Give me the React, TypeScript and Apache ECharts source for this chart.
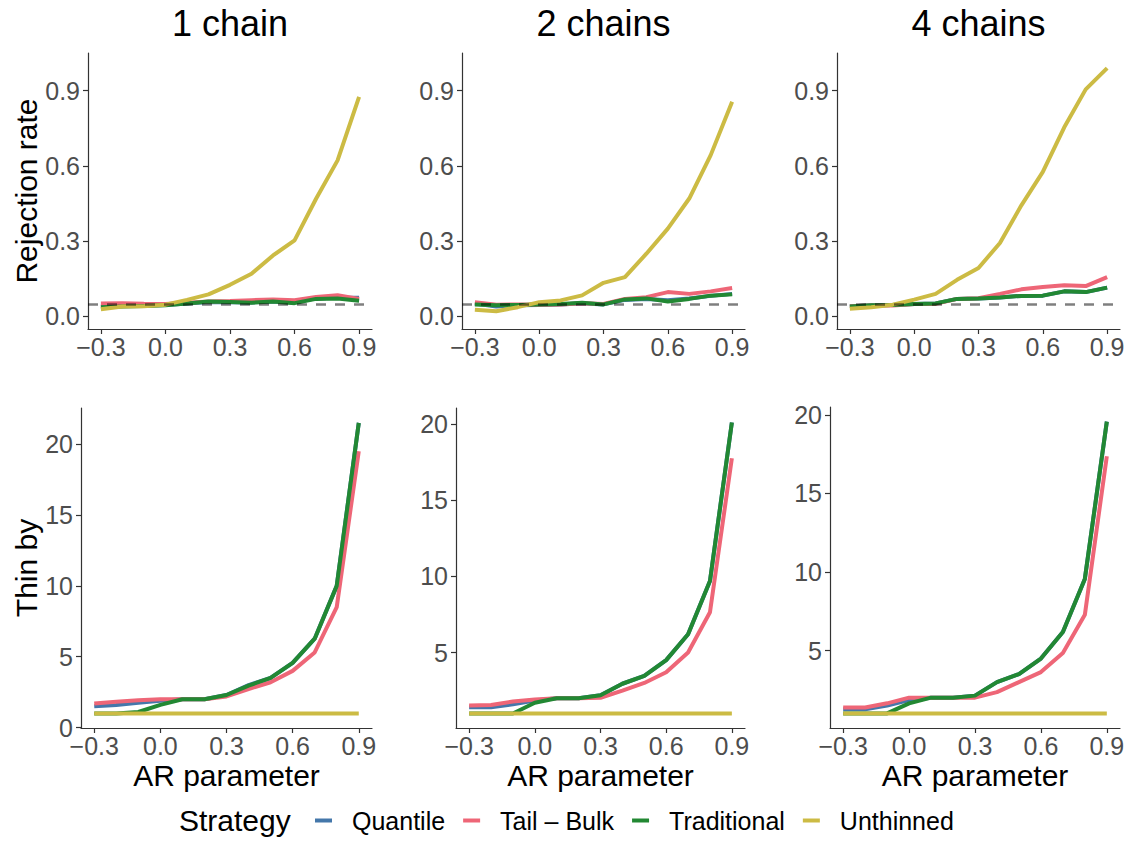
import React, { useEffect, useRef } from "react";
import * as echarts from "echarts";

// ---- data ----
const arParams = [-0.3, -0.2, -0.1, 0, 0.1, 0.2, 0.3, 0.4, 0.5, 0.6, 0.7, 0.8, 0.9];
const strategies = ["Quantile", "Tail \u2013 Bulk", "Traditional", "Unthinned"];
const strategyColors = ["#4477AA", "#EE6677", "#228833", "#CCBB44"];
const panelTitles = ["1 chain", "2 chains", "4 chains"];
const nominalLevel = 0.05;
const xTicks = [-0.3, 0, 0.3, 0.6, 0.9];
const rejTicks = [0, 0.3, 0.6, 0.9];
const thinTicks1 = [0, 5, 10, 15, 20];
const thinTicks23 = [5, 10, 15, 20];

// Rejection rate, 1 chain
const rej1Quantile = [0.040, 0.042, 0.044, 0.046, 0.052, 0.058, 0.057, 0.056, 0.060, 0.056, 0.072, 0.075, 0.075];
const rej1TailBulk = [0.052, 0.053, 0.051, 0.050, 0.055, 0.060, 0.062, 0.065, 0.068, 0.065, 0.078, 0.085, 0.070];
const rej1Traditional = [0.037, 0.040, 0.042, 0.045, 0.052, 0.060, 0.058, 0.055, 0.060, 0.053, 0.070, 0.072, 0.063];
const rej1Unthinned = [0.029, 0.040, 0.041, 0.047, 0.066, 0.088, 0.126, 0.170, 0.243, 0.303, 0.469, 0.622, 0.875];
// Rejection rate, 2 chains
const rej2Quantile = [0.052, 0.040, 0.045, 0.046, 0.048, 0.053, 0.048, 0.066, 0.070, 0.065, 0.072, 0.082, 0.090];
const rej2TailBulk = [0.057, 0.047, 0.048, 0.047, 0.048, 0.053, 0.050, 0.070, 0.077, 0.097, 0.090, 0.100, 0.113];
const rej2Traditional = [0.048, 0.045, 0.046, 0.048, 0.050, 0.055, 0.048, 0.068, 0.072, 0.060, 0.070, 0.083, 0.088];
const rej2Unthinned = [0.027, 0.021, 0.037, 0.057, 0.064, 0.084, 0.134, 0.157, 0.250, 0.350, 0.470, 0.643, 0.856];
// Rejection rate, 4 chains
const rej4Quantile = [0.040, 0.045, 0.046, 0.050, 0.052, 0.070, 0.072, 0.076, 0.082, 0.083, 0.100, 0.097, 0.115];
const rej4TailBulk = [0.041, 0.044, 0.044, 0.050, 0.050, 0.070, 0.073, 0.090, 0.108, 0.117, 0.124, 0.121, 0.157];
const rej4Traditional = [0.040, 0.045, 0.046, 0.050, 0.052, 0.070, 0.072, 0.076, 0.082, 0.083, 0.100, 0.097, 0.115];
const rej4Unthinned = [0.031, 0.037, 0.047, 0.067, 0.090, 0.146, 0.193, 0.293, 0.443, 0.576, 0.754, 0.905, 0.990];

// Thin by, 1 chain
const thin1Quantile = [1.5, 1.6, 1.75, 1.9, 2.0, 2.0, 2.3, 3.0, 3.5, 4.57, 6.27, 10.0, 21.5];
const thin1TailBulk = [1.7, 1.82, 1.92, 2.0, 2.0, 2.0, 2.2, 2.72, 3.2, 4.0, 5.3, 8.5, 19.5];
const thin1Traditional = [1.0, 1.0, 1.1, 1.6, 2.0, 2.0, 2.3, 2.96, 3.5, 4.57, 6.27, 10.0, 21.5];
const thin1Unthinned = [1, 1, 1, 1, 1, 1, 1, 1, 1, 1, 1, 1, 1];
// Thin by, 2 chains
const thin2Quantile = [1.4, 1.4, 1.6, 1.85, 2.0, 2.0, 2.2, 2.95, 3.46, 4.5, 6.2, 9.7, 20.1];
const thin2TailBulk = [1.52, 1.56, 1.78, 1.92, 2.0, 2.0, 2.03, 2.5, 3.0, 3.7, 5.0, 7.64, 17.75];
const thin2Traditional = [1.0, 1.0, 1.0, 1.7, 2.0, 2.0, 2.2, 2.95, 3.46, 4.5, 6.2, 9.7, 20.1];
const thin2Unthinned = [1, 1, 1, 1, 1, 1, 1, 1, 1, 1, 1, 1, 1];
// Thin by, 4 chains
const thin4Quantile = [1.26, 1.26, 1.5, 1.85, 2.0, 2.0, 2.13, 2.99, 3.5, 4.49, 6.18, 9.56, 19.57];
const thin4TailBulk = [1.38, 1.38, 1.64, 2.0, 2.0, 2.0, 2.0, 2.35, 2.99, 3.63, 4.85, 7.27, 17.37];
const thin4Traditional = [1.0, 1.0, 1.0, 1.64, 2.0, 2.0, 2.13, 2.99, 3.5, 4.49, 6.18, 9.56, 19.57];
const thin4Unthinned = [1, 1, 1, 1, 1, 1, 1, 1, 1, 1, 1, 1, 1];

const panelSeries = [
  [rej1Quantile, rej1TailBulk, rej1Traditional, rej1Unthinned],
  [rej2Quantile, rej2TailBulk, rej2Traditional, rej2Unthinned],
  [rej4Quantile, rej4TailBulk, rej4Traditional, rej4Unthinned],
  [thin1Quantile, thin1TailBulk, thin1Traditional, thin1Unthinned],
  [thin2Quantile, thin2TailBulk, thin2Traditional, thin2Unthinned],
  [thin4Quantile, thin4TailBulk, thin4Traditional, thin4Unthinned],
];

// ---- layout ----
const FONT = '"Liberation Sans", Arial, Helvetica, sans-serif';
const grids = [
  { left: 88, top: 53, width: 284, height: 276 },
  { left: 462, top: 53, width: 283, height: 276 },
  { left: 837, top: 53, width: 283, height: 276 },
  { left: 81, top: 408, width: 291, height: 320 },
  { left: 456, top: 408, width: 289, height: 320 },
  { left: 830, top: 407, width: 290, height: 321 },
];
const yRanges = [
  { min: -0.05, max: 1.05, ticks: rejTicks },
  { min: -0.05, max: 1.05, ticks: rejTicks },
  { min: -0.05, max: 1.05, ticks: rejTicks },
  { min: -0.03, max: 22.55, ticks: thinTicks1 },
  { min: 0.045, max: 21.05, ticks: thinTicks23 },
  { min: 0.07, max: 20.5, ticks: thinTicks23 },
];

const fmtX = (v: number) => {
  const s = Math.abs(v).toFixed(1);
  return v < -1e-9 ? "\u2212" + s : s;
};

function buildOption() {
  const axisColor = "#333333";
  const labelColor = "#4d4d4d";
  const xAxis = grids.map((_, i) => ({
    type: "value",
    gridIndex: i,
    min: -0.36,
    max: 0.96,
    splitLine: { show: false },
    axisLine: { show: true, onZero: false, lineStyle: { color: axisColor, width: 1.2 } },
    axisTick: { show: true, length: 5, lineStyle: { color: axisColor, width: 1.2 }, customValues: xTicks },
    axisLabel: {
      show: true,
      customValues: xTicks,
      formatter: (v: number) => fmtX(v),
      color: labelColor,
      fontSize: 25,
      fontFamily: FONT,
      margin: 5,
    },
  }));
  const yAxis = grids.map((_, i) => ({
    type: "value",
    gridIndex: i,
    min: yRanges[i].min,
    max: yRanges[i].max,
    splitLine: { show: false },
    axisLine: { show: true, onZero: false, lineStyle: { color: axisColor, width: 1.2 } },
    axisTick: { show: true, length: 5, lineStyle: { color: axisColor, width: 1.2 }, customValues: yRanges[i].ticks },
    axisLabel: {
      show: true,
      customValues: yRanges[i].ticks,
      formatter: (v: number) => (i < 3 ? v.toFixed(1) : String(Math.round(v))),
      color: labelColor,
      fontSize: 25,
      fontFamily: FONT,
      margin: 8,
    },
  }));

  const series: any[] = [];
  panelSeries.forEach((panel, p) => {
    panel.forEach((vals, s) => {
      series.push({
        type: "line",
        name: strategies[s],
        xAxisIndex: p,
        yAxisIndex: p,
        data: arParams.map((x, k) => [x, vals[k]]),
        showSymbol: false,
        symbol: "none",
        lineStyle: { color: strategyColors[s], width: 4 },
        itemStyle: { color: strategyColors[s] },
        silent: true,
        z: 2,
      });
    });
    if (p < 3) {
      series.push({
        type: "line",
        name: "nominal",
        xAxisIndex: p,
        yAxisIndex: p,
        data: [],
        silent: true,
        z: 5,
        markLine: {
          silent: true,
          symbol: ["none", "none"],
          label: { show: false },
          lineStyle: { type: [10, 9], width: 2.5, color: "rgba(0,0,0,0.5)" },
          data: [{ yAxis: nominalLevel }],
        },
      });
    }
  });

  const graphic: any[] = [];
  panelTitles.forEach((t, i) => {
    const g = grids[i];
    graphic.push({
      type: "text",
      x: g.left + g.width / 2,
      y: 23,
      style: { text: t, font: `36px ${FONT}`, fill: "#000", textAlign: "center", textVerticalAlign: "middle" },
    });
  });
  graphic.push({
    type: "text",
    x: 26,
    y: grids[0].top + grids[0].height / 2,
    rotation: Math.PI / 2,
    style: { text: "Rejection rate", font: `30px ${FONT}`, fill: "#000", textAlign: "center", textVerticalAlign: "middle" },
  });
  graphic.push({
    type: "text",
    x: 26,
    y: grids[3].top + grids[3].height / 2,
    rotation: Math.PI / 2,
    style: { text: "Thin by", font: `30px ${FONT}`, fill: "#000", textAlign: "center", textVerticalAlign: "middle" },
  });
  [3, 4, 5].forEach((i) => {
    const g = grids[i];
    graphic.push({
      type: "text",
      x: g.left + g.width / 2,
      y: 775,
      style: { text: "AR parameter", font: `30px ${FONT}`, fill: "#000", textAlign: "center", textVerticalAlign: "middle" },
    });
  });
  graphic.push({
    type: "text",
    x: 179,
    y: 820,
    style: { text: "Strategy", font: `30px ${FONT}`, fill: "#000", textAlign: "left", textVerticalAlign: "middle" },
  });

  return {
    animation: false,
    backgroundColor: "#ffffff",
    textStyle: { fontFamily: FONT },
    grid: grids.map((g) => ({ ...g, containLabel: false })),
    xAxis,
    yAxis,
    series,
    graphic,
    legend: {
      data: strategies,
      left: 310,
      top: 803,
      icon: "rect",
      itemWidth: 17,
      itemHeight: 4,
      itemGap: 18,
      selectedMode: false,
      textStyle: { fontSize: 25, color: "#000", fontFamily: FONT, padding: [0, 0, 0, 15] },
    },
  };
}

export default function App() {
  const ref = useRef<HTMLDivElement>(null);
  useEffect(() => {
    if (!ref.current) return;
    const chart = echarts.init(ref.current, undefined, { renderer: "svg" });
    chart.setOption(buildOption() as any);
    return () => chart.dispose();
  }, []);
  return (
    <div
      ref={ref}
      style={{ position: "absolute", left: 0, top: 0, width: 1130, height: 841, background: "#fff" }}
    />
  );
}
